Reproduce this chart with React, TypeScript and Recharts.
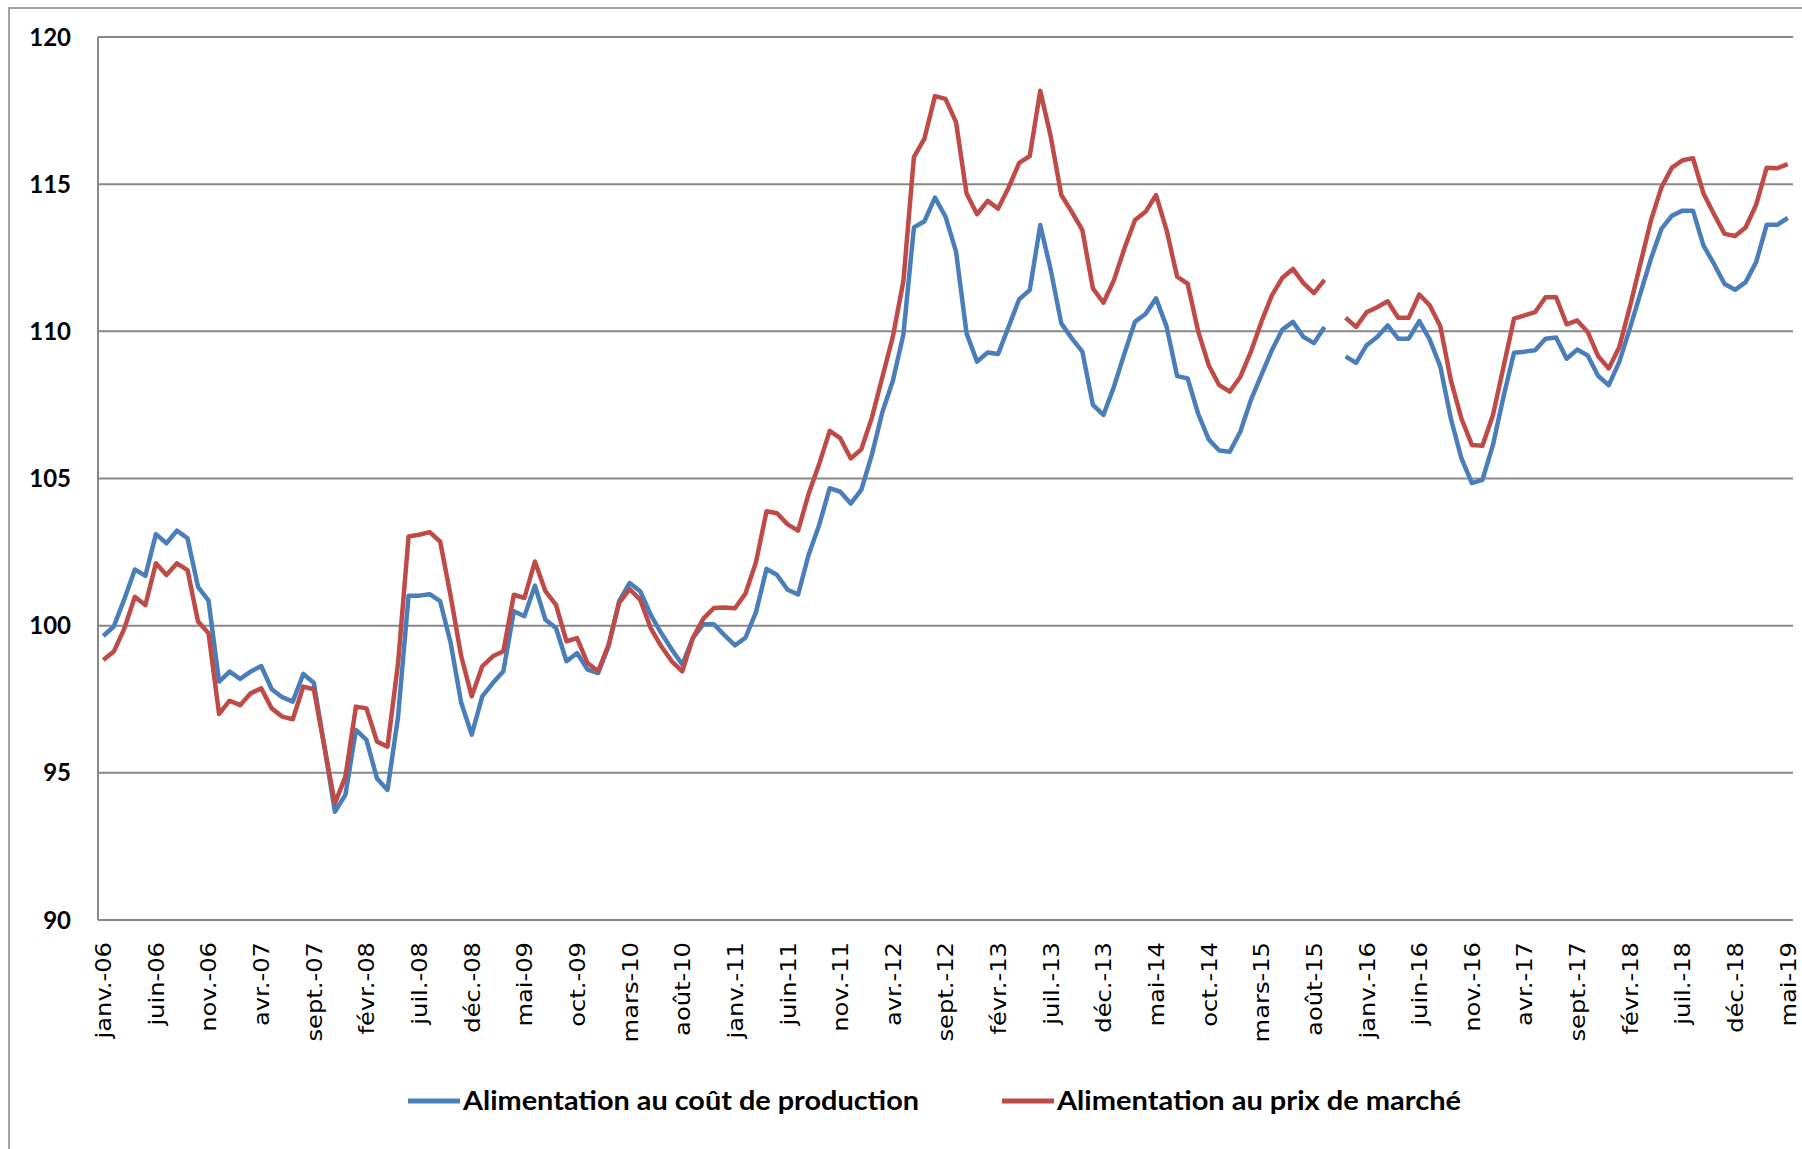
import React from 'react';
import { LineChart, Line, XAxis, YAxis, CartesianGrid, Legend } from 'recharts';

// monthly categories, janv.-06 .. mai-19 (161 months)
const MONTH_NAMES = ['janv.', 'févr.', 'mars', 'avr.', 'mai', 'juin', 'juil.', 'août', 'sept.', 'oct.', 'nov.', 'déc.'];
const YEARS = ['06', '07', '08', '09', '10', '11', '12', '13', '14', '15', '16', '17', '18', '19'];
const months: string[] = YEARS.flatMap(y => MONTH_NAMES.map(m => `${m}-${y}`)).slice(0, 161);

const yTicks = [90, 95, 100, 105, 110, 115, 120];

// Alimentation au coût de production
const costProduction: (number | null)[] = [
  99.65, 99.97, 100.9, 101.91, 101.69, 103.11, 102.8, 103.23, 102.97, 101.32, 100.85, 98.1,
  98.44, 98.19, 98.44, 98.63, 97.84, 97.57, 97.42, 98.36, 98.06, 95.9, 93.68, 94.25,
  96.46, 96.12, 94.81, 94.42, 96.9, 101.02, 101.02, 101.07, 100.83, 99.41, 97.38, 96.3,
  97.6, 98.05, 98.45, 100.49, 100.32, 101.36, 100.2, 99.92, 98.79, 99.07, 98.51, 98.39,
  99.3, 100.83, 101.45, 101.17, 100.37, 99.75, 99.19, 98.68, 99.58, 100.05, 100.05, 99.68,
  99.33, 99.59, 100.46, 101.93, 101.72, 101.22, 101.06, 102.41, 103.42, 104.67, 104.55, 104.15,
  104.61, 105.8, 107.25, 108.32, 109.89, 113.53, 113.74, 114.54, 113.9, 112.71, 109.93, 108.97,
  109.28, 109.23, 110.16, 111.09, 111.4, 113.61, 112.08, 110.27, 109.76, 109.31, 107.5, 107.16,
  108.12, 109.25, 110.33, 110.59, 111.12, 110.16, 108.48, 108.4, 107.2, 106.33, 105.95, 105.91,
  106.59, 107.66, 108.51, 109.36, 110.06, 110.32, 109.81, 109.6, 110.15, null, 109.15, 108.93,
  109.53, 109.81, 110.2, 109.75, 109.75, 110.35, 109.72, 108.8, 107.04, 105.69, 104.84, 104.95,
  106.14, 107.78, 109.27, 109.31, 109.36, 109.75, 109.79, 109.07, 109.38, 109.18, 108.48, 108.17,
  108.96, 110.09, 111.28, 112.46, 113.48, 113.93, 114.1, 114.1, 112.91, 112.29, 111.61, 111.41,
  111.67, 112.35, 113.62, 113.62, 113.85,
];

// Alimentation au prix de marché
const marketPrice: (number | null)[] = [
  98.83, 99.12, 99.9, 100.98, 100.7, 102.12, 101.72, 102.12, 101.89, 100.14, 99.74, 97.0,
  97.45, 97.3, 97.7, 97.87, 97.19, 96.91, 96.82, 97.93, 97.84, 95.9, 93.96, 94.87,
  97.25, 97.19, 96.06, 95.89, 98.72, 103.03, 103.09, 103.18, 102.86, 101.0, 98.96, 97.6,
  98.62, 98.96, 99.13, 101.05, 100.94, 102.18, 101.17, 100.71, 99.47, 99.58, 98.73, 98.45,
  99.36, 100.77, 101.24, 100.88, 99.92, 99.3, 98.79, 98.45, 99.58, 100.24, 100.6, 100.62,
  100.59, 101.09, 102.16, 103.89, 103.82, 103.44, 103.23, 104.48, 105.49, 106.62, 106.37, 105.68,
  105.99, 107.06, 108.44, 109.82, 111.71, 115.92, 116.55, 117.99, 117.9, 117.11, 114.68, 113.98,
  114.43, 114.17, 114.89, 115.72, 115.95, 118.17, 116.61, 114.63, 114.06, 113.44, 111.46, 110.97,
  111.74, 112.82, 113.78, 114.06, 114.63, 113.44, 111.86, 111.62, 110.0, 108.85, 108.17, 107.95,
  108.45, 109.3, 110.32, 111.22, 111.82, 112.12, 111.64, 111.3, 111.75, null, 110.46, 110.15,
  110.65, 110.82, 111.02, 110.46, 110.46, 111.25, 110.88, 110.17, 108.34, 107.04, 106.14, 106.11,
  107.16, 108.79, 110.43, 110.54, 110.65, 111.16, 111.16, 110.24, 110.37, 109.98, 109.15, 108.74,
  109.47, 110.82, 112.29, 113.76, 114.89, 115.56, 115.81, 115.88, 114.68, 113.98, 113.31, 113.24,
  113.53, 114.3, 115.56, 115.54, 115.68,
];

const data = months.map((m, i) => ({
  month: m,
  cout: costProduction[i],
  prix: marketPrice[i],
}));

const W = 1802;
const H = 1149;
const PLOT_LEFT = 98;
const PLOT_RIGHT = 9;
const PLOT_W = W - PLOT_LEFT - PLOT_RIGHT;
const halfCat = PLOT_W / months.length / 2;

const BLUE = '#4a7ebb';
const RED = '#be4b48';
const GRID = '#888888';

const legendItems = [
  { name: 'Alimentation au coût de production', color: BLUE, x: 408, textW: 456 },
  { name: 'Alimentation au prix de marché', color: RED, x: 1002, textW: 404 },
];

const MonthTick = ({ x, y, payload }: any) => (
  <g transform={`translate(${x},${y + 22})`}>
    <text
      transform="rotate(-90) scale(1.1,1)"
      textAnchor="end"
      dy="0.36em"
      fontFamily="DejaVu Sans"
      fontSize={22}
      fill="#000"
    >
      {payload.value}
    </text>
  </g>
);

const LegendRow = () => (
  <svg width={W} height={99} style={{ display: 'block' }}>
    {legendItems.map(item => (
      <g key={item.name}>
        <line x1={item.x} x2={item.x + 52} y1={51} y2={51} stroke={item.color} strokeWidth={5} />
        <text
          x={item.x + 55}
          y={60}
          textLength={item.textW}
          lengthAdjust="spacingAndGlyphs"
          fontFamily="Lato"
          fontWeight="bold"
          fontSize={26}
          fill="#000"
        >
          {item.name}
        </text>
      </g>
    ))}
  </svg>
);

export default function App() {
  return (
    <div style={{ position: 'absolute', left: 0, top: 0, width: W, height: H, background: '#fff', overflow: 'hidden' }}>
      <div
        style={{
          position: 'absolute',
          left: 8,
          top: 7,
          right: -10,
          bottom: -10,
          borderTop: '2px solid #a3a3a3',
          borderLeft: '2px solid #a3a3a3',
        }}
      />
      <LineChart
        width={W}
        height={H}
        data={data}
        margin={{ top: 37, right: PLOT_RIGHT, left: 0, bottom: 0 }}
      >
        <CartesianGrid vertical={false} stroke={GRID} strokeWidth={2} />
        <XAxis
          dataKey="month"
          interval={4}
          height={130}
          padding={{ left: halfCat, right: halfCat }}
          axisLine={{ stroke: GRID, strokeWidth: 2 }}
          tickLine={false}
          tickSize={0}
          tickMargin={0}
          tick={<MonthTick />}
        />
        <YAxis
          domain={[90, 120]}
          ticks={yTicks}
          width={PLOT_LEFT}
          axisLine={{ stroke: GRID, strokeWidth: 2 }}
          tickLine={false}
          tickSize={0}
          tickMargin={27}
          tick={{ fill: '#000', fontFamily: 'Lato', fontWeight: 'bold', fontSize: 24 }}
        />
        <Legend
          verticalAlign="bottom"
          height={99}
          wrapperStyle={{ left: 0, width: W, margin: 0, padding: 0 }}
          content={<LegendRow />}
        />
        <Line
          type="linear"
          dataKey="cout"
          name="Alimentation au coût de production"
          stroke={BLUE}
          strokeWidth={4.5}
          strokeLinejoin="round"
          dot={false}
          activeDot={false}
          isAnimationActive={false}
        />
        <Line
          type="linear"
          dataKey="prix"
          name="Alimentation au prix de marché"
          stroke={RED}
          strokeWidth={4.5}
          strokeLinejoin="round"
          dot={false}
          activeDot={false}
          isAnimationActive={false}
        />
      </LineChart>
    </div>
  );
}
